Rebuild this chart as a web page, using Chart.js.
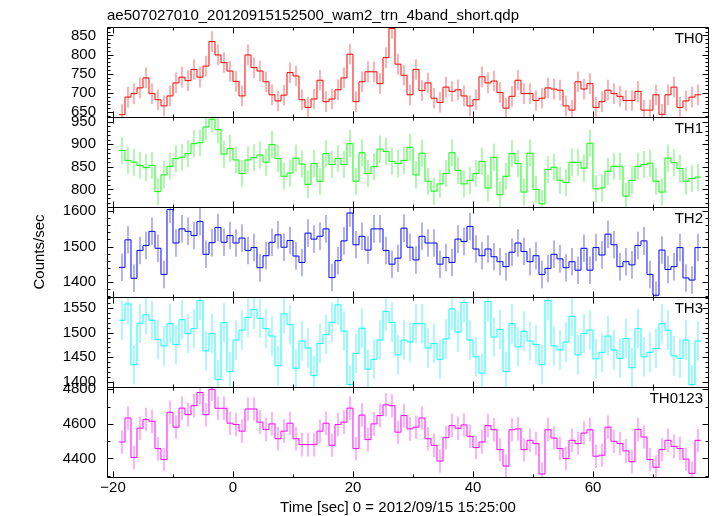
<!DOCTYPE html>
<html>
<head>
<meta charset="utf-8">
<script src="https://cdn.jsdelivr.net/npm/chart.js@4.4.0/dist/chart.umd.min.js"></script>
<style>
  html, body { margin: 0; padding: 0; background: #fff; }
  #wrap { position: relative; width: 717px; height: 516px; }
</style>
</head>
<body>
<div id="wrap"><canvas id="qdp" width="717" height="516"></canvas></div>
<script>
// light curve, 1 s bins starting at t = -19 s
const binStart = -19;
const binWidth = 1;

const th0 = [643, 689, 698, 713, 739, 698, 682, 666, 692, 726, 741, 732, 761, 741, 770, 834, 799, 779, 757, 730,
  692, 799, 766, 757, 729, 695, 679, 694, 753, 744, 682, 662, 684, 733, 677, 684, 708, 739, 801, 677,
  729, 755, 755, 724, 792, 868, 775, 746, 695, 761, 706, 726, 686, 675, 715, 704, 708, 692, 666, 682,
  742, 726, 731, 701, 660, 691, 733, 698, 698, 680, 686, 713, 710, 707, 666, 655, 729, 710, 724, 662,
  677, 707, 698, 691, 680, 680, 704, 655, 655, 695, 644, 695, 715, 662, 679, 689, 695];
const th1 = [886, 864, 860, 853, 848, 853, 795, 832, 851, 868, 871, 879, 901, 903, 938, 955, 932, 878, 890, 865,
  835, 865, 870, 876, 860, 899, 868, 829, 836, 869, 856, 811, 857, 818, 879, 855, 868, 855, 901, 818,
  881, 835, 850, 889, 884, 862, 857, 864, 893, 832, 880, 818, 796, 812, 835, 881, 842, 812, 820, 835,
  862, 803, 871, 788, 829, 879, 857, 794, 880, 800, 768, 844, 849, 820, 815, 860, 860, 847, 902, 801,
  803, 840, 851, 851, 785, 820, 851, 855, 858, 818, 794, 869, 859, 846, 818, 824, 827];
const th2 = [1441, 1519, 1410, 1489, 1503, 1543, 1495, 1421, 1605, 1510, 1550, 1543, 1531, 1571, 1478, 1511, 1554, 1512, 1531, 1510,
  1524, 1489, 1497, 1440, 1474, 1512, 1533, 1498, 1517, 1473, 1455, 1538, 1521, 1529, 1550, 1412, 1460, 1516, 1595, 1505,
  1529, 1490, 1550, 1550, 1489, 1450, 1467, 1552, 1498, 1462, 1529, 1510, 1510, 1450, 1469, 1455, 1521, 1514, 1557, 1493,
  1474, 1493, 1471, 1457, 1443, 1484, 1510, 1486, 1457, 1474, 1421, 1438, 1478, 1465, 1440, 1457, 1433, 1495, 1433, 1497,
  1476, 1535, 1505, 1443, 1457, 1448, 1503, 1516, 1421, 1362, 1490, 1435, 1443, 1497, 1411, 1405, 1497];
const th3 = [1525, 1558, 1435, 1519, 1536, 1525, 1486, 1473, 1518, 1476, 1526, 1498, 1508, 1565, 1463, 1498, 1405, 1520, 1421, 1485,
  1505, 1531, 1547, 1529, 1508, 1493, 1433, 1538, 1516, 1428, 1483, 1469, 1413, 1478, 1496, 1521, 1556, 1503, 1395, 1458,
  1509, 1426, 1446, 1485, 1543, 1521, 1455, 1485, 1481, 1518, 1518, 1469, 1478, 1446, 1487, 1548, 1501, 1561, 1485, 1451,
  1418, 1563, 1491, 1506, 1421, 1518, 1471, 1503, 1483, 1476, 1435, 1565, 1473, 1465, 1481, 1533, 1455, 1498, 1505, 1447,
  1460, 1493, 1465, 1448, 1488, 1429, 1508, 1451, 1460, 1468, 1518, 1505, 1453, 1448, 1485, 1395, 1483];
const th0123 = [4495, 4634, 4406, 4575, 4625, 4615, 4457, 4394, 4667, 4581, 4691, 4653, 4705, 4781, 4653, 4800, 4690, 4690, 4604, 4596,
  4558, 4686, 4686, 4610, 4568, 4600, 4514, 4558, 4604, 4514, 4480, 4480, 4480, 4558, 4604, 4476, 4596, 4610, 4691, 4457,
  4651, 4509, 4600, 4648, 4710, 4705, 4552, 4648, 4571, 4581, 4634, 4514, 4476, 4385, 4520, 4590, 4575, 4594, 4528, 4463,
  4495, 4590, 4566, 4451, 4356, 4566, 4571, 4451, 4505, 4486, 4310, 4566, 4518, 4457, 4400, 4505, 4486, 4547, 4566, 4413,
  4419, 4581, 4499, 4486, 4444, 4381, 4568, 4524, 4394, 4349, 4451, 4505, 4470, 4457, 4396, 4314, 4505];

// one error (counts/sec) per band
const errors = [27, 30, 39, 40, 68];

const series = [th0, th1, th2, th3, th0123];
const panelNames = ['TH0', 'TH1', 'TH2', 'TH3', 'TH0123'];
const lineColors = ['#ff0000', '#00ff00', '#0000ff', '#00ffff', '#ff00ff'];
const errColors = ['rgba(255,0,0,0.6)', 'rgba(0,230,0,0.6)', 'rgba(0,0,255,0.6)', 'rgba(0,230,230,0.6)', 'rgba(255,0,255,0.6)'];

const yMins = [637, 761, 1357, 1390, 4293];
const yMaxs = [872, 960, 1612, 1572, 4813];
const yMajor = [50, 50, 100, 50, 200];
const yMinor = [10, 10, 20, 10, 100];

const xMin = -21, xMax = 79.17;
const xMajor = 20, xMinor = 10;

const titleText = 'ae507027010_20120915152500_wam2_trn_4band_short.qdp';
const xTitle = 'Time [sec] 0 = 2012/09/15 15:25:00';
const yTitle = 'Counts/sec';

const FONT = '"Liberation Sans", Arial, Helvetica, sans-serif';
Chart.defaults.font.family = FONT;
Chart.defaults.font.size = 15;
Chart.defaults.color = '#000';

// tick values: multiples of the major step inside the range
function majorTicks(min, max, step) {
  const out = [];
  for (let v = Math.ceil(min / step) * step; v <= max; v += step) out.push({ value: v });
  return out;
}

const datasets = [];
series.forEach((vals, i) => {
  const edges = vals.map((v, k) => ({ x: binStart + k * binWidth, y: v }));
  edges.push({ x: binStart + vals.length * binWidth, y: vals[vals.length - 1] });
  datasets.push({
    type: 'line',
    data: edges,
    yAxisID: 'y' + i,
    borderColor: lineColors[i],
    borderWidth: 1,
    stepped: true,
    pointRadius: 0,
    fill: false,
    clip: 0
  });
  datasets.push({
    type: 'bar',
    data: vals.map((v, k) => ({ x: binStart + (k + 0.5) * binWidth, y: [v - errors[i], v + errors[i]] })),
    yAxisID: 'y' + i,
    backgroundColor: errColors[i],
    borderWidth: 0,
    barThickness: 1,
    grouped: false,
    inflateAmount: 0,
    clip: 0
  });
});

const scales = {
  x: {
    type: 'linear',
    position: 'bottom',
    min: xMin,
    max: xMax,
    offset: false,
    grid: { display: false, drawTicks: false },
    border: { display: false },
    ticks: {
      autoSkip: false,
      maxRotation: 0,
      padding: 2,
      callback: v => (v < 0 ? '\u2212' + Math.abs(v) : String(v))
    },
    afterBuildTicks(s) { s.ticks = majorTicks(xMin, xMax, xMajor); },
    afterFit(s) { s.height = 39; }
  }
};
panelNames.forEach((name, i) => {
  scales['y' + i] = {
    type: 'linear',
    position: 'left',
    stack: 'panels',
    stackWeight: 1,
    weight: 5 - i,
    min: yMins[i],
    max: yMaxs[i],
    beginAtZero: false,
    offset: false,
    grid: { display: false, drawTicks: false },
    border: { display: false },
    ticks: { autoSkip: false, padding: 11, callback: v => String(v) },
    afterBuildTicks(s) { s.ticks = majorTicks(yMins[i], yMaxs[i], yMajor[i]); },
    title: i === 2
      ? { display: true, text: yTitle, padding: { top: 31, bottom: 0 } }
      : { display: false },
    afterFit(s) { s.width = 107; }
  };
});

// qdp style frame: every panel boxed, ticks pointing inwards on all four sides
const qdpFrame = {
  id: 'qdpFrame',
  afterDraw(chart) {
    const ctx = chart.ctx;
    const xs = chart.scales.x;
    const px = v => Math.round(v) + 0.5;
    const L = px(xs.left), R = px(xs.right);
    ctx.save();
    ctx.strokeStyle = '#000';
    ctx.lineWidth = 1;
    ctx.beginPath();
    panelNames.forEach((name, i) => {
      const ys = chart.scales['y' + i];
      const T = px(ys.top), B = px(ys.bottom);
      ctx.rect(L, T, R - L, B - T);
      for (let v = Math.ceil(yMins[i] / yMinor[i]) * yMinor[i]; v <= yMaxs[i]; v += yMinor[i]) {
        const len = v % yMajor[i] === 0 ? 6 : 3;
        const y = px(ys.getPixelForValue(v));
        ctx.moveTo(L, y); ctx.lineTo(L + len, y);
        ctx.moveTo(R, y); ctx.lineTo(R - len, y);
      }
      for (let v = Math.ceil(xMin / xMinor) * xMinor; v <= xMax; v += xMinor) {
        const len = v % xMajor === 0 ? 6 : 3;
        const x = px(xs.getPixelForValue(v));
        ctx.moveTo(x, T); ctx.lineTo(x, T + len);
        ctx.moveTo(x, B); ctx.lineTo(x, B - len);
      }
    });
    ctx.stroke();

    ctx.fillStyle = '#000';
    ctx.font = '15px ' + FONT;
    ctx.textBaseline = 'alphabetic';
    ctx.textAlign = 'right';
    panelNames.forEach((name, i) => {
      ctx.fillText(name, xs.right - 5, chart.scales['y' + i].top + 15.5);
    });
    ctx.textAlign = 'left';
    ctx.fillText(titleText, xs.left, 20);
    ctx.textAlign = 'center';
    ctx.fillText(xTitle, 398, 512);
    ctx.restore();
  }
};

new Chart(document.getElementById('qdp'), {
  type: 'line',
  data: { datasets },
  options: {
    responsive: false,
    animation: false,
    events: [],
    devicePixelRatio: 1,
    layout: { padding: { top: 27, right: 9, left: 0, bottom: 0 } },
    plugins: { legend: { display: false }, tooltip: { enabled: false } },
    scales
  },
  plugins: [qdpFrame]
});
</script>
</body>
</html>
